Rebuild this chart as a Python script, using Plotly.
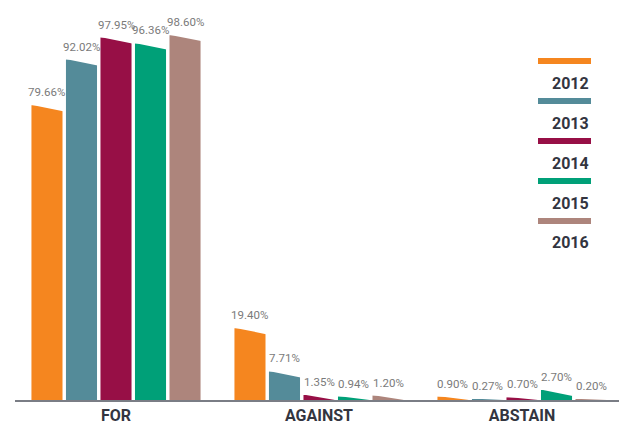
import plotly.graph_objects as go

categories = ["FOR", "AGAINST", "ABSTAIN"]
years = ["2012", "2013", "2014", "2015", "2016"]
values = {
    "2012": [79.66, 19.40, 0.90],
    "2013": [92.02, 7.71, 0.27],
    "2014": [97.95, 1.35, 0.70],
    "2015": [96.36, 0.94, 2.70],
    "2016": [98.60, 1.20, 0.20],
}
colors = ["#F5861F", "#548B99", "#970F46", "#00A078", "#AD857C"]

pitch = 0.17
bw = 0.153
slant = 1.6

fig = go.Figure()
annotations = []
shapes = []

for j, yr in enumerate(years):
    xs = [i + (j - 2) * pitch for i in range(len(categories))]
    vals = values[yr]
    fig.add_trace(go.Bar(x=xs, y=vals, width=bw, marker=dict(color=colors[j], line=dict(width=0)),
                         name=yr, showlegend=False, hoverinfo="skip"))
    # slanted top overlay (white triangle)
    for x, v in zip(xs, vals):
        d = min(slant, v)
        xl = x - bw / 2 - 0.002
        xr = x + bw / 2 + 0.003
        fig.add_trace(go.Scatter(x=[xl, xr, xr, xl], y=[v + 0.15, v + 0.15, v - d, v + 0.15],
                                 fill="toself", fillcolor="white", mode="lines",
                                 line=dict(width=0, color="white"), showlegend=False, hoverinfo="skip"))
        annotations.append(dict(x=x, y=v, xref="x", yref="y", text=f"{v:.2f}%", showarrow=False,
                                yanchor="bottom", yshift=4,
                                font=dict(family="Roboto", size=11.5, color="#7a7a7a")))

# custom legend: colour bar above label, right-aligned
x_left = (538 - 15) / 604
x_right = (591 - 15) / 604
for j, yr in enumerate(years):
    ly = (400 - (61 + 40 * j)) / 400
    ty = (400 - (83 + 40 * j)) / 400
    shapes.append(dict(type="line", xref="paper", yref="paper", x0=x_left, x1=x_right, y0=ly, y1=ly,
                       line=dict(color=colors[j], width=6)))
    annotations.append(dict(x=x_right, y=ty, xref="paper", yref="paper", text=f"<b>{yr}</b>",
                            showarrow=False, xanchor="right", yanchor="middle",
                            font=dict(family="Roboto", size=16, color="#33353F")))

fig.update_layout(
    width=619, height=428,
    margin=dict(l=15, r=0, t=0, b=28),
    paper_bgcolor="white", plot_bgcolor="white",
    barmode="overlay",
    annotations=annotations, shapes=shapes,
    xaxis=dict(range=[-101 / 203, 503 / 203], tickvals=[0, 1, 2],
               ticktext=[f"<b>{c}</b>" for c in categories],
               tickfont=dict(family="Roboto", size=16, color="#33353F"),
               showgrid=False, zeroline=False, showline=True, linecolor="#7A7D85", linewidth=2,
               ticks="", fixedrange=True),
    yaxis=dict(range=[0, 400 / 3.7], visible=False, showgrid=False, zeroline=False, fixedrange=True),
)

fig.write_html("out.html")
